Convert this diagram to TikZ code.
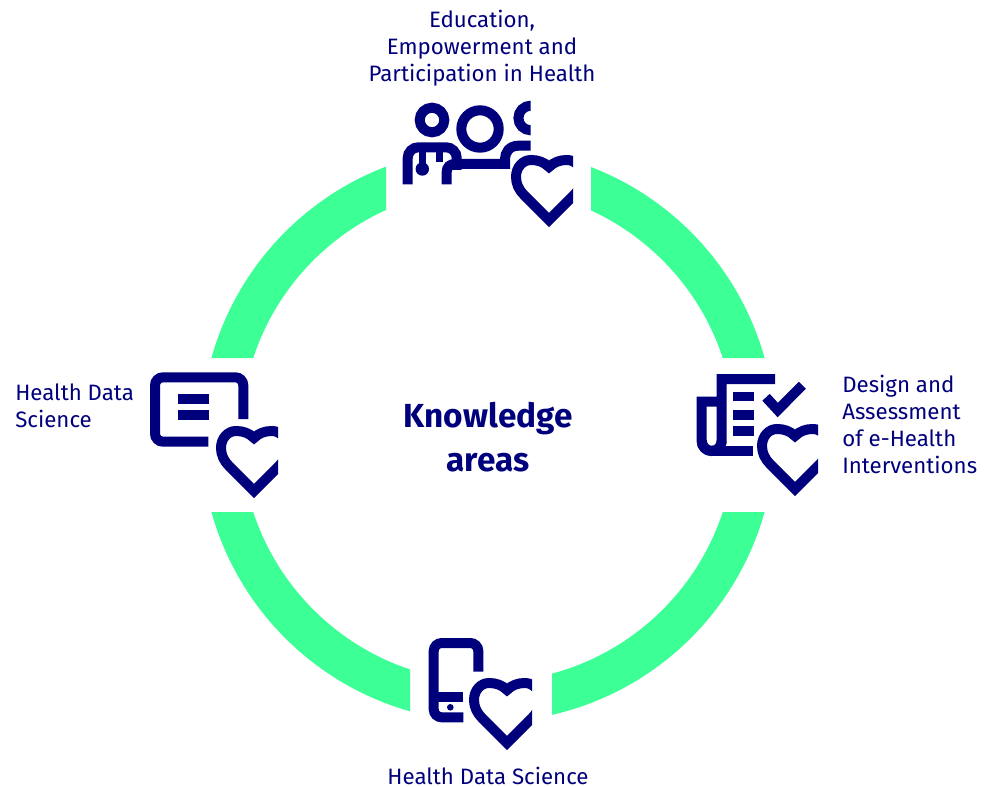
\documentclass[tikz,border=0pt]{standalone}
\usepackage{fontspec}
\setmainfont{Fira Sans}
\definecolor{iconcolor}{RGB}{0, 0, 125}
\definecolor{ringcolor}{RGB}{60, 255, 150}

\begin{document}
\begin{tikzpicture}[x=0.75pt,y=-0.75pt,
    ringarc/.style={draw=ringcolor, line width=30pt},
    iconline/.style={draw=iconcolor, line width=7.5pt},
    iconbar/.style={fill=iconcolor},
    thinline/.style={draw=iconcolor, line width=4.8pt},
    areatext/.style={text=iconcolor, font=\fontsize{16.7}{20.2}\selectfont, inner sep=0pt},
    titletext/.style={text=iconcolor, font=\fontsize{25}{33}\selectfont\bfseries, inner sep=0pt, align=center}
    ]

    \newcommand{\hearticon}[3]{%
        \begin{scope}[shift={(#1,#2)}]
            \clip (-50,-80) rectangle (#3,5);
            \draw[iconline, line join=miter] (0,-7) -- (-25,-32)
                .. controls (-30,-37) and (-33,-43) .. (-33,-50)
                .. controls (-33,-60) and (-26,-67) .. (-18,-67)
                .. controls (-11,-67) and (-5,-65) .. (0,-60)
                .. controls (5,-65) and (11,-67) .. (18,-67)
                .. controls (26,-67) and (33,-60) .. (33,-50)
                .. controls (33,-43) and (30,-37) .. (25,-32) -- cycle;
        \end{scope}
    }

    \useasboundingbox (0,0) rectangle (994,787);

    % Ring
    \begin{scope}
        \clip (0,0) rectangle (386,358) (591,0) rectangle (994,358)
              (0,512) rectangle (410,787) (552,512) rectangle (994,787);
        \draw[ringarc] (488,435) circle [radius=267];
    \end{scope}

    % Top icon
    \draw[iconline] (432,120) circle [radius=12.3];
    \draw[iconline] (480,129) circle [radius=18.7];
    \begin{scope}
        \clip (500,90) rectangle (530.7,140);
        \draw[iconline] (530.7,118) circle [radius=12.3];
    \end{scope}
    \draw[iconline, rounded corners=8pt] (407.7,184.3) -- (407.7,147.3) -- (456.7,147.3) -- (456.7,170);
    \draw[iconline, line join=miter] (530.7,145.7) -- (518.3,145.7)
        .. controls (509,145.7) and (505,153) .. (505,159) -- (505,164)
        -- (455,164) .. controls (450,164) and (446.7,167) .. (446.7,172) -- (446.7,184.3);
    \fill[iconbar] (436,150) rectangle (442.7,161.7);
    \draw[thinline] (422.3,150) -- (422.3,169);
    \fill[iconbar] (422.3,169) circle [radius=6.7];
    \hearticon{549}{227}{24}

    % Right icon
    \draw[iconline] (775,379) -- (721.7,379) -- (721.7,441)
        arc [start angle=0, end angle=180, radius=10] -- (701.7,401.7) -- (721.7,401.7);
    \draw[iconline] (711.7,451) arc [start angle=90, end angle=0, radius=10];
    \draw[iconline] (711.7,451) arc [start angle=90, end angle=180, radius=10];
    \draw[iconline] (711.7,451) -- (752.7,451);
    \fill[iconbar] (733.3,391.7) rectangle (754,401.3);
    \fill[iconbar] (733.3,410) rectangle (754,419.7);
    \fill[iconbar] (733.3,426) rectangle (754,436);
    \draw[iconline, line join=miter] (766,397.3) -- (777.7,410) -- (802.3,385.3);
    \hearticon{795}{496}{23}

    % Left icon
    \draw[iconline, rounded corners=6pt] (243.3,419) -- (243.3,377.3) -- (155,377.3) -- (155,441.7) -- (208.3,441.7);
    \fill[iconbar] (178,394) rectangle (209,404);
    \fill[iconbar] (178,410) rectangle (209,420);
    \hearticon{254}{498}{24}

    % Bottom icon
    \draw[iconline, rounded corners=6pt] (478.3,671.7) -- (478.3,643) -- (433.7,643) -- (433.7,717.3) -- (463.3,717.3);
    \draw[iconline] (438,697) -- (463.3,697);
    \fill[iconbar] (450.3,707.3) circle [radius=3.3];
    \hearticon{507}{750}{25}

    % Labels
    \node[titletext] (title) at (488,437) {Knowledge\\areas};
    \node[areatext, align=center] (toplabel) at (482,48) {Education,\\Empowerment and\\Participation in Health};
    \node[areatext, align=left, anchor=west] (rightlabel) at (842,424.5) {Design and\\Assessment\\of e-Health\\Interventions};
    \node[areatext, align=left, anchor=west] (leftlabel) at (15,406) {Health Data\\Science};
    \node[areatext] (bottomlabel) at (488,776) {Health Data Science};
\end{tikzpicture}
\end{document}
